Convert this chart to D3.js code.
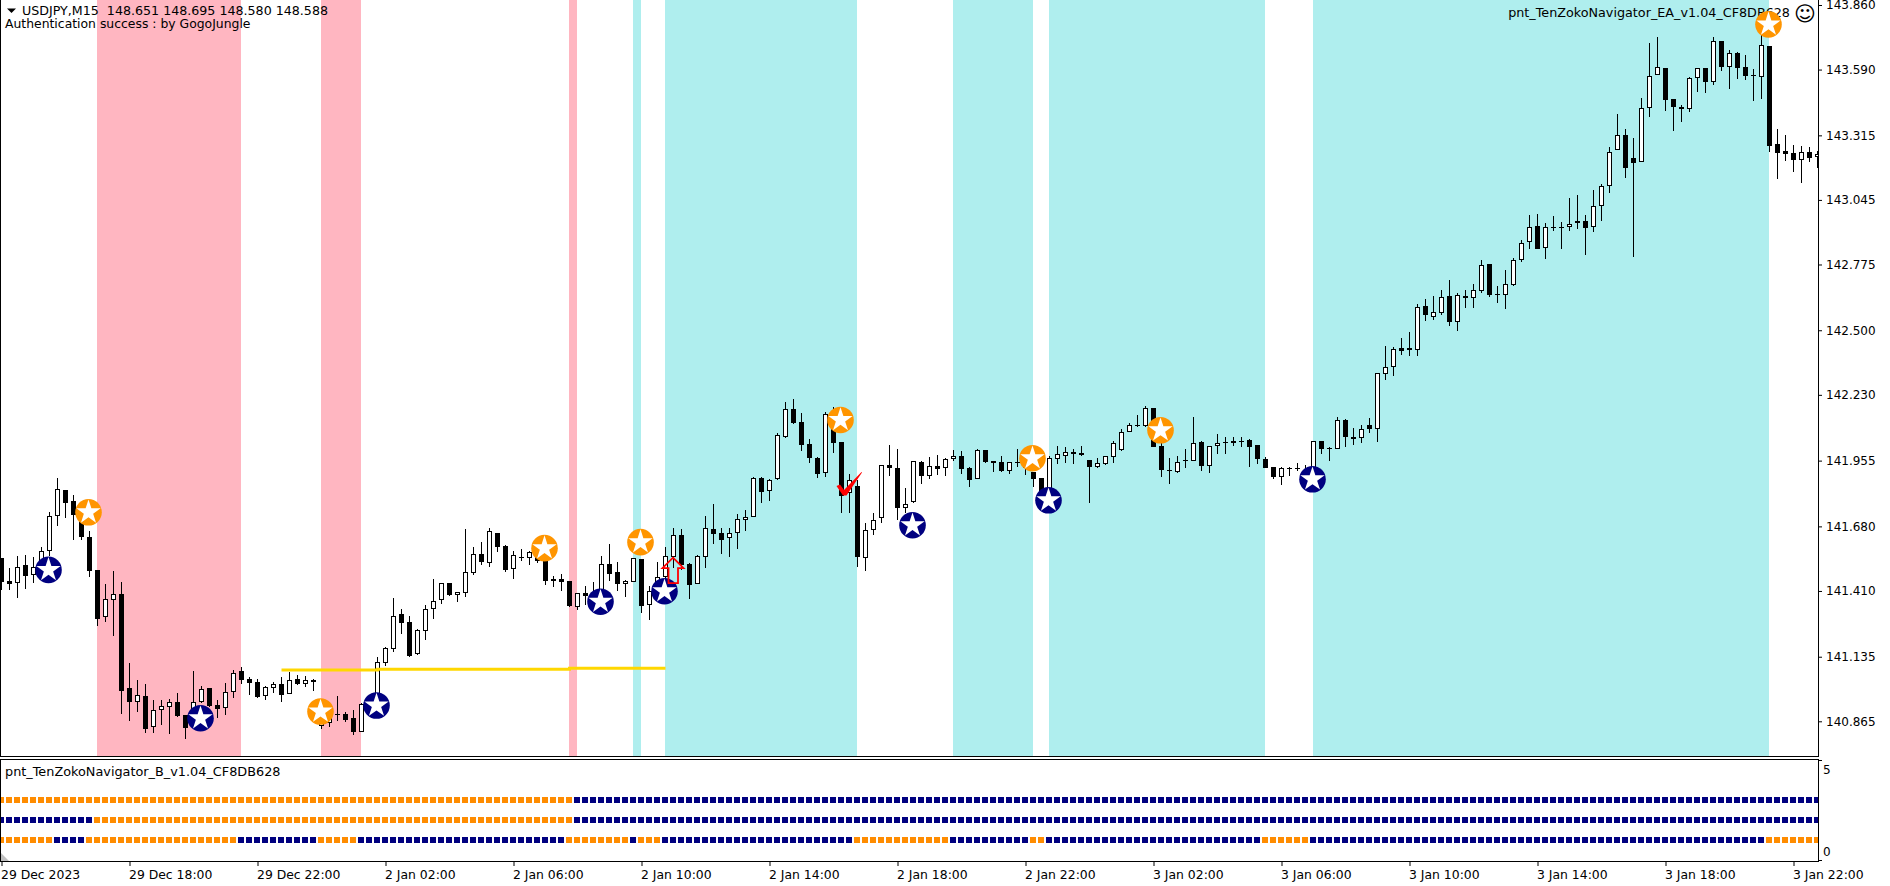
<!DOCTYPE html>
<html>
<head>
<meta charset="utf-8">
<script src="https://cdnjs.cloudflare.com/ajax/libs/d3/7.8.5/d3.min.js"></script>
<style>
html,body{margin:0;padding:0;background:#fff;overflow:hidden}
svg{display:block}
text{font-family:"DejaVu Sans",sans-serif;font-size:12px;fill:#000}
</style>
</head>
<body>
<svg id="c" width="1890" height="886"></svg>
<script>
const highs=[141.546,141.504,141.556,141.559,141.550,141.592,141.739,141.881,141.832,141.811,141.755,141.659,141.497,141.438,141.493,141.446,141.107,141.038,141.020,140.953,140.953,140.957,140.982,140.891,141.075,141.013,141.006,140.953,141.024,141.080,141.091,141.049,141.042,141.014,141.028,141.049,141.070,141.057,141.053,141.042,
140.870,140.926,140.971,140.905,140.912,140.940,140.961,141.132,141.174,141.379,
141.334,141.305,141.249,141.351,141.458,141.442,141.443,141.404,141.669,141.594,
141.615,141.673,141.652,141.601,141.576,141.585,141.576,141.574,141.560,141.474,
141.479,141.452,141.400,141.431,141.446,141.556,141.606,141.531,141.456,141.548,
141.544,141.431,141.531,141.592,141.672,141.669,141.526,141.559,141.723,141.772,
141.672,141.672,141.730,141.748,141.888,141.885,141.880,142.072,142.199,142.213,
142.153,142.044,141.969,142.157,142.178,142.033,141.899,141.874,141.693,141.735,
141.935,142.019,142.004,141.839,141.953,141.953,141.969,141.978,141.964,141.999,
141.995,141.927,142.002,141.999,141.953,141.974,141.948,142.004,141.958,141.909,
141.884,141.974,142.016,142.010,142.002,142.016,141.958,141.964,141.976,142.036,
142.086,142.111,142.144,142.182,142.175,142.034,141.964,141.973,142.004,142.137,
142.036,142.015,142.066,142.052,142.052,142.052,142.044,142.020,141.969,141.928,
141.928,141.927,141.945,141.935,142.036,142.037,142.011,142.137,142.128,142.090,
142.103,142.132,142.320,142.434,142.429,142.468,142.493,142.608,142.631,142.642,
142.668,142.709,142.654,142.668,142.693,142.792,142.777,142.685,142.751,142.802,
142.878,142.982,142.986,142.950,142.978,142.954,143.053,143.066,142.982,143.087,
143.112,143.266,143.404,143.342,143.303,143.470,143.700,143.728,143.595,143.466,
143.442,143.558,143.595,143.595,143.725,143.708,143.672,143.662,143.651,143.591,
143.742,143.689,143.342,143.317,143.275,143.272,143.266,143.251];
const lows=[141.414,141.414,141.382,141.419,141.445,141.498,141.556,141.683,141.715,141.623,
141.623,141.470,141.263,141.280,141.223,140.895,140.866,140.904,140.817,140.817,
140.850,140.812,140.884,140.792,140.836,140.940,140.926,140.880,140.891,140.964,
141.021,140.975,140.964,140.954,140.985,140.947,140.981,141.017,141.010,140.993,
140.831,140.843,140.868,140.864,140.808,140.822,140.926,140.954,141.098,141.156,
141.230,141.135,141.141,141.205,141.293,141.357,141.390,141.364,141.385,141.477,
141.518,141.510,141.573,141.489,141.460,141.535,141.518,141.528,141.435,141.426,
141.410,141.344,141.330,141.351,141.358,141.379,141.452,141.410,141.386,141.449,
141.319,141.289,141.400,141.456,141.507,141.498,141.376,141.438,141.507,141.608,
141.565,141.553,141.585,141.662,141.718,141.779,141.788,141.873,142.048,142.110,
141.997,141.946,141.884,141.888,141.988,141.737,141.737,141.512,141.495,141.645,
141.696,141.892,141.708,141.735,141.779,141.857,141.880,141.895,141.891,141.953,
141.899,141.845,141.877,141.946,141.907,141.907,141.899,141.927,141.895,141.845,
141.804,141.818,141.941,141.945,141.941,141.974,141.779,141.925,141.937,141.945,
141.997,142.073,142.097,142.097,142.013,141.886,141.857,141.905,141.924,141.955,
141.913,141.905,141.983,141.983,142.016,142.012,141.928,141.941,141.923,141.878,
141.853,141.891,141.913,141.867,141.902,141.983,141.955,142.005,142.012,142.020,
142.029,142.071,142.033,142.292,142.309,142.397,142.392,142.392,142.539,142.543,
142.565,142.518,142.497,142.593,142.593,142.657,142.640,142.614,142.589,142.685,
142.787,142.839,142.839,142.797,142.917,142.841,142.917,142.925,142.816,142.911,
142.958,143.075,143.252,143.138,142.807,143.202,143.392,143.566,143.418,143.335,
143.372,143.414,143.498,143.494,143.526,143.586,143.510,143.552,143.547,143.460,
143.468,143.247,143.133,143.209,143.162,143.117,143.205,143.180];
const opens=[141.546,141.452,141.442,141.517,141.475,141.506,141.576,141.722,141.832,141.786,
141.727,141.635,141.497,141.300,141.373,141.397,141.004,140.944,140.971,140.840,
140.911,140.926,140.946,140.891,140.843,140.944,141.003,140.932,140.919,140.986,
141.075,141.042,141.029,140.969,141.006,141.020,140.981,141.042,141.022,141.038,
140.844,140.859,140.896,140.896,140.879,140.822,140.935,140.968,141.110,141.169,
141.314,141.280,141.148,141.244,141.333,141.371,141.442,141.394,141.403,141.486,
141.564,141.528,141.652,141.598,141.500,141.550,141.549,141.567,141.553,141.460,
141.460,141.452,141.344,141.400,141.397,141.400,141.523,141.489,141.441,141.449,
141.544,141.350,141.408,141.470,141.553,141.644,141.523,141.438,141.553,141.669,
141.652,141.630,141.651,141.705,141.718,141.882,141.827,141.877,142.052,142.171,
142.116,142.023,141.966,141.902,142.153,142.033,141.818,141.849,141.546,141.663,
141.714,141.937,141.923,141.758,141.781,141.948,141.892,141.932,141.923,141.963,
141.973,141.923,141.877,141.999,141.953,141.949,141.913,141.949,141.944,141.909,
141.882,141.825,141.963,141.976,141.991,141.985,141.958,141.930,141.942,141.971,
141.998,142.073,142.102,142.101,142.175,142.016,141.916,141.909,141.958,141.955,
142.031,141.934,142.015,142.032,142.037,142.037,142.041,142.020,141.962,141.928,
141.888,141.924,141.926,141.916,141.909,142.036,142.008,142.005,142.125,142.052,
142.051,142.103,142.089,142.319,142.348,142.424,142.424,142.419,142.601,142.557,
142.574,142.642,142.536,142.642,142.636,142.666,142.777,142.652,142.649,142.691,
142.794,142.868,142.936,142.843,142.933,142.932,142.933,142.947,142.956,142.931,
143.018,143.102,143.252,143.315,143.219,143.202,143.428,143.566,143.595,143.466,
143.435,143.424,143.553,143.595,143.537,143.708,143.602,143.660,143.601,143.566,
143.558,143.689,143.278,143.248,143.240,143.213,143.244,143.223];
const closes=[141.449,141.440,141.509,141.474,141.509,141.576,141.722,141.835,141.779,141.727,
141.635,141.495,141.294,141.375,141.396,140.993,140.947,140.974,140.834,140.911,
140.928,140.944,140.887,140.838,140.944,140.999,140.929,140.918,140.986,141.066,
141.039,141.027,140.967,141.007,141.020,140.976,141.036,141.021,141.036,141.028,
140.864,140.905,140.891,140.870,140.822,140.936,140.951,141.111,141.170,141.304,
141.277,141.138,141.245,141.333,141.367,141.442,141.394,141.404,141.488,141.563,
141.531,141.659,141.594,141.497,141.559,141.548,141.571,141.537,141.453,141.452,
141.449,141.347,141.400,141.390,141.372,141.521,141.482,141.441,141.452,141.548,
141.349,141.408,141.467,141.555,141.643,141.519,141.436,141.555,141.672,141.650,
141.624,141.651,141.709,141.718,141.881,141.825,141.873,142.061,142.169,142.114,
142.022,141.967,141.900,142.148,142.030,141.808,141.873,141.553,141.663,141.705,
141.935,141.925,141.758,141.772,141.952,141.892,141.931,141.920,141.963,141.973,
141.921,141.874,141.998,141.951,141.946,141.912,141.948,141.946,141.923,141.878,
141.811,141.964,141.983,141.990,141.984,141.980,141.930,141.944,141.973,142.027,
142.073,142.102,142.100,142.174,142.013,141.917,141.913,141.951,141.955,142.027,
141.934,142.015,142.027,142.027,142.030,142.034,142.013,141.963,141.926,141.887,
141.923,141.921,141.921,141.895,142.036,142.004,142.005,142.123,142.054,142.047,
142.086,142.087,142.320,142.345,142.420,142.413,142.419,142.596,142.564,142.575,
142.638,142.536,142.646,142.635,142.667,142.771,142.647,142.647,142.692,142.792,
142.864,142.933,142.839,142.931,142.929,142.929,142.946,142.956,142.929,143.018,
143.102,143.244,143.315,143.180,143.201,143.428,143.562,143.599,143.464,143.435,
143.424,143.553,143.595,143.540,143.708,143.602,143.658,143.598,143.565,143.563,
143.691,143.272,143.243,143.239,143.213,143.244,143.222,143.236];

const priceTicks=[143.860,143.590,143.315,143.045,142.775,142.500,142.230,141.955,141.680,141.410,141.135,140.865];
const timeTickBars=[0,16,32,48,64,80,96,112,128,144,160,176,192,208,224];
const timeTickLabels=["29 Dec 2023","29 Dec 18:00","29 Dec 22:00","2 Jan 02:00","2 Jan 06:00","2 Jan 10:00","2 Jan 14:00","2 Jan 18:00","2 Jan 22:00","3 Jan 02:00","3 Jan 06:00","3 Jan 10:00","3 Jan 14:00","3 Jan 18:00","3 Jan 22:00"];

const pinkBands=[[12,30],[40,45],[71,72]];
const cyanBands=[[79,80],[83,107],[119,129],[131,158],[164,221]];

const buyStarBars=[6,25,47,75,83,114,131,164];
const buyStarPrices=[141.498,140.878,140.931,141.365,141.409,141.685,141.789,141.877];
const sellStarBars=[11,40,68,80,105,129,145,221];
const sellStarPrices=[141.739,140.906,141.589,141.614,142.125,141.965,142.082,143.779];

const levelBars=[35,47,47,71,71,83];
const levelPrices=[141.079,141.079,141.083,141.083,141.087,141.087];

const arrowBar=84, arrowPrice=141.549;
const checkBar=105, checkPrice=141.811;

const row3Blue=[[72,227]];
const row2Blue=[[0,11],[72,227]];
const row1Blue=[[7,10],[30,39],[45,70],[79,79],[83,106],[119,128],[131,157],[164,220]];
const subRows=[{value:3,blue:row3Blue},{value:2,blue:row2Blue},{value:1,blue:row1Blue}];
const subTicks=[5,0];

const titleLeft="USDJPY,M15  148.651 148.695 148.580 148.588";
const authText="Authentication success : by GogoJungle";
const eaName="pnt_TenZokoNavigator_EA_v1.04_CF8DB628";
const subName="pnt_TenZokoNavigator_B_v1.04_CF8DB628";

const PINK="#FFB6C1",CYAN="#AFEEEE",ORANGE="#FF8C00",NAVY="#000080",GOLD="#FFD700",RED="#FF0000";
const RIGHT=1818,MAIN_BOTTOM=756,SUB_TOP=759,SUB_BOTTOM=861;

const svg=d3.select("#c");
const x=d3.scaleLinear().domain([0,227]).range([1.5,1817.5]);
const y=d3.scaleLinear().domain([143.86,140.865]).range([5,721.3]);
const ys=d3.scaleLinear().domain([5,0]).range([760,860]);
const col=i=>Math.floor(x(i));
const barIdx=d3.range(highs.length);

const defs=svg.append("defs");
defs.append("clipPath").attr("id","mainClip").append("rect").attr("x",1).attr("y",0).attr("width",RIGHT-1).attr("height",MAIN_BOTTOM);
defs.append("clipPath").attr("id","subClip").append("rect").attr("x",1).attr("y",SUB_TOP+1).attr("width",RIGHT-1).attr("height",SUB_BOTTOM-SUB_TOP-1);

const main=svg.append("g").attr("clip-path","url(#mainClip)");

function bands(list,color){
  main.append("g").attr("shape-rendering","crispEdges").selectAll("rect").data(list).join("rect")
    .attr("x",d=>col(d[0])).attr("width",d=>col(d[1])-col(d[0]))
    .attr("y",0).attr("height",MAIN_BOTTOM).attr("fill",color);
}
bands(pinkBands,PINK);
bands(cyanBands,CYAN);

const cg=main.append("g").attr("shape-rendering","crispEdges");
cg.selectAll("rect.w").data(barIdx).join("rect").attr("class","w")
  .attr("x",i=>col(i)).attr("width",1)
  .attr("y",i=>Math.round(y(highs[i])))
  .attr("height",i=>Math.max(1,Math.round(y(lows[i]))-Math.round(y(highs[i]))))
  .attr("fill","#000");
const bTop=i=>Math.round(y(Math.max(opens[i],closes[i])));
const bBot=i=>Math.max(bTop(i)+1,Math.round(y(Math.min(opens[i],closes[i]))));
cg.selectAll("rect.b").data(barIdx).join("rect").attr("class","b")
  .attr("x",i=>col(i)-2).attr("width",5)
  .attr("y",bTop).attr("height",i=>bBot(i)-bTop(i)).attr("fill","#000");
cg.selectAll("rect.u").data(barIdx.filter(i=>closes[i]>opens[i]&&bBot(i)-bTop(i)>2)).join("rect").attr("class","u")
  .attr("x",i=>col(i)-1).attr("width",3)
  .attr("y",i=>bTop(i)+1).attr("height",i=>bBot(i)-bTop(i)-2).attr("fill","#fff");

main.append("path").attr("fill","none").attr("stroke",GOLD).attr("stroke-width",3)
  .attr("d",d3.line().x(d=>x(d[0])).y(d=>y(d[1]))(levelBars.map((b,i)=>[b,levelPrices[i]])));

const head=main.append("g");
head.append("text").attr("x",22).attr("y",15).style("white-space","pre").style("font-size","12.65px").text(titleLeft);
head.append("text").attr("x",5).attr("y",28).style("font-size","12.4px").text(authText);
head.append("path").attr("d","M7 8.5H16L11.5 13Z").attr("fill","#000");
head.append("text").attr("x",1790).attr("y",17).attr("text-anchor","end").style("font-size","12.76px").text(eaName);
head.append("text").attr("x",1805).attr("y",21).attr("text-anchor","middle").style("font-size","21px").text("\u263A");

const starGen=d3.symbol(d3.symbolStar,184);
function stars(bars,prices,color){
  const s=main.append("g").selectAll("g").data(bars.map((b,i)=>[b,prices[i]])).join("g")
    .attr("transform",d=>`translate(${x(d[0])-1},${y(d[1])})`);
  s.append("circle").attr("r",13.3).attr("fill",color);
  s.append("path").attr("d",starGen()).attr("fill","#fff");
}
stars(buyStarBars,buyStarPrices,NAVY);
stars(sellStarBars,sellStarPrices,"#FF9500");

main.append("path").attr("fill","none").attr("stroke",RED).attr("stroke-width",1.8)
  .attr("transform",`translate(${x(arrowBar)-.5},${y(arrowPrice)})`)
  .attr("d","M0 0L10.5 10.5H5V25.5H-4.5V10.5H-10.5Z");
main.append("path").attr("fill",RED).attr("transform",`translate(${x(checkBar)+3.5},${y(checkPrice)})`)
  .attr("d","M-8.5 -9L-5 -10.5L-1 -5L16.5 -23L17 -22.5L1.5 0.5L-2 0.5Z");

const sub=svg.append("g").attr("clip-path","url(#subClip)");
subRows.forEach(r=>{
  const isBlue=i=>r.blue.some(s=>i>=s[0]&&i<=s[1]);
  sub.append("g").attr("shape-rendering","crispEdges").selectAll("rect").data(barIdx).join("rect")
    .attr("x",i=>col(i)-3).attr("width",6)
    .attr("y",Math.round(ys(r.value))-3).attr("height",6)
    .attr("fill",i=>isBlue(i)?NAVY:ORANGE);
});
svg.append("text").attr("x",5).attr("y",776).style("font-size","12.84px").text(subName);
svg.append("path").attr("d",`M1 ${SUB_BOTTOM-8}L9 ${SUB_BOTTOM}H1Z`).attr("fill","#c0c0c0");

const lines=svg.append("g").attr("shape-rendering","crispEdges").attr("stroke","#000").attr("stroke-width",1);
[[0.5,0,0.5,MAIN_BOTTOM],[0.5,SUB_TOP,0.5,SUB_BOTTOM],[RIGHT+.5,0,RIGHT+.5,MAIN_BOTTOM],[RIGHT+.5,SUB_TOP,RIGHT+.5,SUB_BOTTOM+.5],
 [0,MAIN_BOTTOM+.5,RIGHT+1,MAIN_BOTTOM+.5],[0,SUB_TOP+.5,RIGHT+1,SUB_TOP+.5],[0,SUB_BOTTOM+.5,RIGHT+1,SUB_BOTTOM+.5]]
 .forEach(l=>lines.append("line").attr("x1",l[0]).attr("y1",l[1]).attr("x2",l[2]).attr("y2",l[3]));

const axY=svg.append("g").attr("transform",`translate(${RIGHT+1},0)`)
  .call(d3.axisRight(y).tickValues(priceTicks).tickFormat(d3.format(".3f")).tickSize(3).tickPadding(4));
axY.select(".domain").remove();
const axS=svg.append("g").attr("transform",`translate(${RIGHT+1},0)`)
  .call(d3.axisRight(ys).tickValues(subTicks).tickFormat(d3.format("d")).tickSize(3).tickPadding(1));
axS.select(".domain").remove();
axS.selectAll("text").attr("dy",d=>d===5?"1.1em":"-0.35em");
const axX=svg.append("g").attr("transform",`translate(0,${SUB_BOTTOM+1})`)
  .call(d3.axisBottom(x).tickValues(timeTickBars).tickFormat((d,i)=>timeTickLabels[i]).tickSize(4).tickPadding(4));
axX.select(".domain").remove();
axX.selectAll("text").attr("text-anchor","start").attr("dx",-1).style("font-size","12.4px");
svg.selectAll("g[font-size]").attr("font-size",null).attr("font-family",null);
</script>
</body>
</html>
